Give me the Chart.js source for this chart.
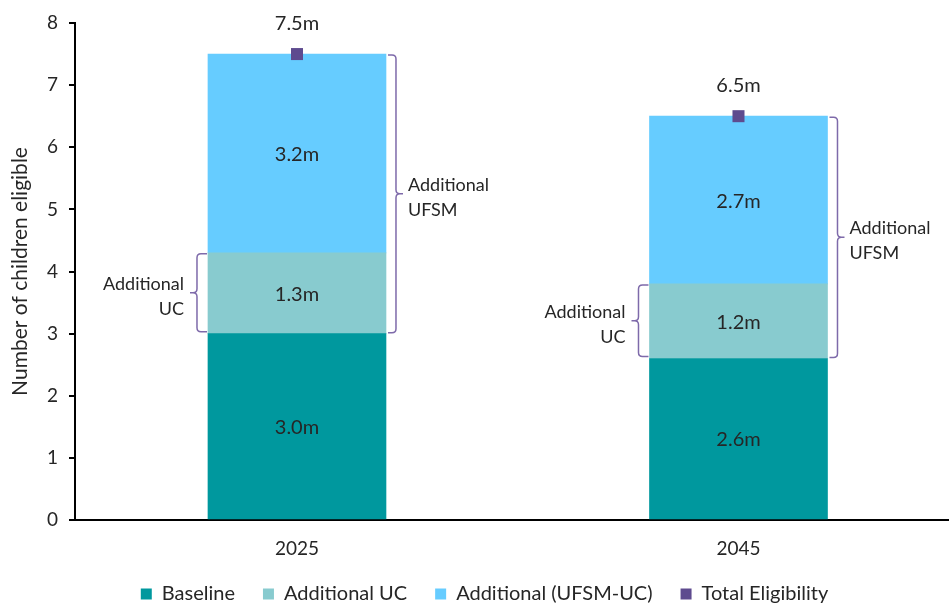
<!DOCTYPE html>
<html>
<head>
<meta charset="utf-8">
<script src="https://cdn.jsdelivr.net/npm/chart.js@4/dist/chart.umd.min.js"></script>
<style>
  html, body { margin: 0; padding: 0; background: #fff; overflow: hidden; }
  #wrap { width: 949px; height: 606px; }
</style>
</head>
<body>
<div id="wrap"><canvas id="c" width="949" height="606"></canvas></div>
<script>
// Children eligible for free school meals, in millions
const years = ['2025', '2045'];
const baseline = [3.0, 2.6];
const additionalUC = [1.3, 1.2];
const additionalUFSM = [3.2, 2.7];
const totalEligibility = [7.5, 6.5];
const yTicks = [0, 1, 2, 3, 4, 5, 6, 7, 8];

const FONT = 'Lato, "Open Sans", sans-serif';
const TEXT = '#262626';
const BRACE = '#7E6AAA';

const toPoints = arr => arr.map((v, i) => ({ x: i, y: v }));

// Value labels inside each segment and above the total marker
const valueLabels = {
  id: 'valueLabels',
  afterDatasetsDraw(chart) {
    const ctx = chart.ctx;
    ctx.save();
    ctx.font = '20px ' + FONT;
    ctx.fillStyle = TEXT;
    ctx.textAlign = 'center';
    ctx.textBaseline = 'middle';
    chart.data.datasets.forEach((ds, di) => {
      const meta = chart.getDatasetMeta(di);
      meta.data.forEach((el, i) => {
        const v = ds.data[i].y;
        const txt = v.toFixed(1) + 'm';
        if (ds.type === 'line') {
          ctx.fillText(txt, el.x, el.y - 31);
        } else {
          ctx.fillText(txt, el.x, (el.y + el.base) / 2 + 1);
        }
      });
    });
    ctx.restore();
  }
};

// Curly braces marking the additional UC and additional UFSM groups
function drawBrace(ctx, xLine, xEnd, xNib, yTop, yBot) {
  const r = 4;
  const dir = Math.sign(xEnd - xLine);
  const nd = Math.sign(xNib - xLine);
  const mid = (yTop + yBot) / 2;
  ctx.beginPath();
  ctx.moveTo(xEnd, yTop);
  ctx.lineTo(xLine + dir * r, yTop);
  ctx.quadraticCurveTo(xLine, yTop, xLine, yTop + r);
  ctx.lineTo(xLine, mid - r);
  ctx.quadraticCurveTo(xLine, mid, xLine + nd * r, mid);
  ctx.lineTo(xNib, mid);
  ctx.moveTo(xLine + nd * r, mid);
  ctx.quadraticCurveTo(xLine, mid, xLine, mid + r);
  ctx.lineTo(xLine, yBot - r);
  ctx.quadraticCurveTo(xLine, yBot, xLine + dir * r, yBot);
  ctx.lineTo(xEnd, yBot);
  ctx.stroke();
  return mid;
}

const braces = {
  id: 'braces',
  afterDatasetsDraw(chart) {
    const ctx = chart.ctx;
    const y = chart.scales.y;
    const barMeta = chart.getDatasetMeta(1);
    ctx.save();
    ctx.strokeStyle = BRACE;
    ctx.lineWidth = 1.5;
    ctx.font = '18px ' + FONT;
    ctx.fillStyle = TEXT;
    ctx.textBaseline = 'middle';
    years.forEach((yr, i) => {
      const bar = barMeta.data[i];
      const half = bar.width / 2;
      const left = bar.x - half;
      const right = bar.x + half;
      // Additional UC: left side of the bar
      const ucTop = y.getPixelForValue(baseline[i] + additionalUC[i]) + 1;
      const ucBot = y.getPixelForValue(baseline[i]) - 2;
      const m1 = drawBrace(ctx, left - 11, left - 1, left - 18, ucTop, ucBot);
      ctx.textAlign = 'right';
      ctx.fillText('Additional', left - 24, m1 - 9);
      ctx.fillText('UC', left - 24, m1 + 16);
      // Additional UFSM: right side of the bar
      const fTop = y.getPixelForValue(totalEligibility[i]) + 1;
      const fBot = y.getPixelForValue(baseline[i]) - 1;
      const m2 = drawBrace(ctx, right + 10, right + 2, right + 17, fTop, fBot);
      ctx.textAlign = 'left';
      ctx.fillText('Additional', right + 22, m2 - 9);
      ctx.fillText('UFSM', right + 22, m2 + 16);
    });
    ctx.restore();
  }
};

// Nudge the legend row a little to the right of the canvas centre
const legendShift = {
  id: 'legendShift',
  afterLayout(chart) {
    if (chart.legend) {
      chart.legend.left += 10;
      chart.legend.right += 10;
    }
  }
};

new Chart(document.getElementById('c'), {
  data: {
    datasets: [
      {
        type: 'bar', label: 'Baseline', data: toPoints(baseline),
        backgroundColor: '#00989E', barThickness: 178, stack: 'bars', order: 1
      },
      {
        type: 'bar', label: 'Additional UC', data: toPoints(additionalUC),
        backgroundColor: '#88CBCF', barThickness: 178, stack: 'bars', order: 1
      },
      {
        type: 'bar', label: 'Additional (UFSM-UC)', data: toPoints(additionalUFSM),
        backgroundColor: '#66CCFF', barThickness: 178, stack: 'bars', order: 1
      },
      {
        type: 'line', label: 'Total Eligibility', data: toPoints(totalEligibility),
        showLine: false, pointStyle: 'rect', pointRadius: 8.5, pointHoverRadius: 8.5,
        backgroundColor: '#5E4B8F', borderColor: '#5E4B8F', borderWidth: 0,
        stack: 'total', order: 0
      }
    ]
  },
  options: {
    responsive: false,
    animation: false,
    layout: { autoPadding: false, padding: { top: 23, right: 0, left: 0, bottom: -8 } },
    plugins: {
      tooltip: { enabled: false },
      legend: {
        position: 'bottom',
        labels: {
          font: { family: FONT, size: 20 },
          color: TEXT,
          boxWidth: 11,
          boxHeight: 11,
          padding: 28,
          sort: (a, b) => a.datasetIndex - b.datasetIndex
        }
      }
    },
    scales: {
      x: {
        type: 'linear',
        stacked: true,
        offset: false,
        min: -0.5028,
        max: 1.4768,
        afterBuildTicks: scale => { scale.ticks = years.map((_, i) => ({ value: i })); },
        ticks: {
          callback: v => years[v],
          font: { family: FONT, size: 19 },
          color: TEXT,
          padding: 17,
          autoSkip: false,
          maxRotation: 0
        },
        grid: { display: false, drawTicks: false, offset: false },
        border: { color: '#000', width: 2 },
        afterFit: scale => {
          scale.height = 36;
          scale.paddingLeft = 0;
          scale.paddingRight = 0;
        }
      },
      y: {
        stacked: true,
        min: 0,
        max: 8,
        afterBuildTicks: scale => { scale.ticks = yTicks.map(v => ({ value: v })); },
        ticks: {
          font: { family: FONT, size: 19 },
          color: TEXT,
          padding: 11
        },
        grid: { drawOnChartArea: false, drawTicks: true, tickLength: 6, color: '#000', lineWidth: 2 },
        border: { color: '#000', width: 2 },
        title: {
          display: true,
          text: 'Number of children eligible',
          font: { family: FONT, size: 21 },
          color: TEXT,
          padding: { top: 8, bottom: 0 }
        },
        afterFit: scale => { scale.width = 75; }
      }
    }
  },
  plugins: [valueLabels, braces, legendShift]
});
</script>
</body>
</html>
